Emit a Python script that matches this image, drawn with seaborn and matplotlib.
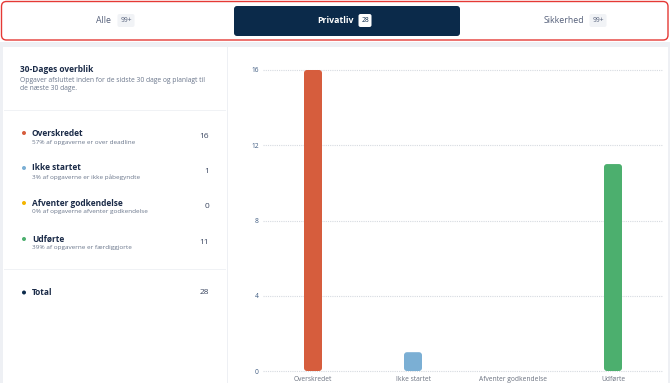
import matplotlib
matplotlib.use("Agg")
import matplotlib.pyplot as plt
import seaborn as sns
from matplotlib.patches import FancyBboxPatch, Rectangle, Circle

# ---- data ----
categories = ["Overskredet", "Ikke startet", "Afventer godkendelse", "Udførte"]
values = [16, 1, 0, 11]
subtexts = ["57% af opgaverne er over deadline",
            "3% af opgaverne er ikke påbegyndte",
            "0% af opgaverne afventer godkendelse",
            "39% af opgaverne er færdiggjorte"]
colors = ["#d65d3d", "#7bafd4", "#f4b400", "#4caf6e"]
total = 28
yticks = [0, 4, 8, 12, 16]
tabs = ["Alle", "Privatliv", "Sikkerhed"]
tab_badges = ["99+", "28", "99+"]

sns.set_theme(style="white")
plt.rcParams["font.family"] = ["Open Sans", "DejaVu Sans"]

W, H = 670, 383
fig = plt.figure(figsize=(W / 100, H / 100), dpi=100)
fig.patch.set_facecolor("#eef0f4")

def fx(x):
    return x / W

def fy(y):
    return 1 - y / H

def frect(x0, y0, x1, y1, **kw):
    r = Rectangle((fx(x0), fy(y1)), fx(x1) - fx(x0), fy(y0) - fy(y1),
                  transform=fig.transFigure, zorder=-2, **kw)
    fig.patches.append(r)

def fround(x0, y0, x1, y1, rad, **kw):
    p = FancyBboxPatch((x0, H - y1), x1 - x0, y1 - y0,
                       boxstyle=f"round,pad=0,rounding_size={rad}",
                       transform=None, **kw)
    fig.patches.append(p)

def ftext(x, y, s, **kw):
    fig.text(fx(x), fy(y), s, **kw)

NAVY = "#0b2a4a"
DARK = "#1b2b48"
GRAY = "#6b778c"

# top tab bar
frect(0, 0, W, 42, facecolor="white", edgecolor="none")
fround(1.5, 1.5, 668, 40, 5, facecolor="white", edgecolor="#e53935", linewidth=1.0)
fround(234, 6, 460, 36, 3, facecolor=NAVY, edgecolor="none")

tab_x = [104, 336, 564]
badge_x = [126, 365, 598]
for i, (t, b) in enumerate(zip(tabs, tab_badges)):
    active = (i == 1)
    ftext(tab_x[i], 20.5, t, ha="center", va="center", fontsize=6.3,
          color="white" if active else "#55607a",
          fontweight="bold" if active else "normal")
    bw = 17 if len(b) == 3 else 13
    fround(badge_x[i] - bw / 2, 14, badge_x[i] + bw / 2, 27, 2,
           facecolor="white" if active else "#f1f3f6", edgecolor="none")
    ftext(badge_x[i], 20.5, b, ha="center", va="center", fontsize=4.8,
          color=NAVY if active else "#55607a")

# panels
frect(3, 47, 227, H, facecolor="white", edgecolor="none")
frect(228, 47, 668, H, facecolor="white", edgecolor="none")
frect(4, 109.5, 226, 110.5, facecolor="#f0f2f5", edgecolor="none")
frect(4, 268.5, 226, 269.5, facecolor="#f0f2f5", edgecolor="none")

# left panel text
ftext(20, 70, "30-Dages overblik", ha="left", va="center", fontsize=6.0,
      fontweight="bold", color=DARK)
ftext(20, 80.5, "Opgaver afsluttet inden for de sidste 30 dage og planlagt til",
      ha="left", va="center", fontsize=4.9, color=GRAY)
ftext(20, 88.5, "de næste 30 dage.", ha="left", va="center", fontsize=4.9, color=GRAY)

item_y = [133, 168, 203, 239]
for cat, sub, col, val, y in zip(categories, subtexts, colors, values, item_y):
    fig.patches.append(Circle((24, H - y), 2.0, transform=None,
                              facecolor=col, edgecolor="none"))
    ftext(32, y, cat, ha="left", va="center", fontsize=6.0,
          fontweight="bold", color=DARK)
    ftext(32, y + 9, sub, ha="left", va="center", fontsize=4.6, color=GRAY)
    ftext(209, y + 3.5, str(val), ha="right", va="center", fontsize=6.0,
          color="#3a4660")

fig.patches.append(Circle((24, H - 292.5), 2.0, transform=None,
                          facecolor=NAVY, edgecolor="none"))
ftext(32, 292.5, "Total", ha="left", va="center", fontsize=6.0,
      fontweight="bold", color=DARK)
ftext(209, 292.5, str(total), ha="right", va="center", fontsize=6.0,
      color="#3a4660")

# chart
ax = fig.add_axes([fx(263), fy(371), fx(663) - fx(263), fy(70) - fy(371)])
ax.set_zorder(5)
ax.set_facecolor("none")
sns.barplot(x=categories, y=values, hue=categories, palette=colors,
            width=0.18, legend=False, ax=ax, saturation=1)
ax.set_ylim(0, 16)
ax.set_xlim(-0.5, 3.5)
ax.set_yticks(yticks)
ax.set_yticklabels([str(v) for v in yticks])
for s in ax.spines.values():
    s.set_visible(False)
ax.tick_params(axis="y", length=0, pad=3, labelsize=4.8, labelcolor="#3d5a80")
ax.tick_params(axis="x", length=0, pad=3.5, labelsize=4.8, labelcolor="#6b7280")
ax.set_xlabel("")
ax.set_ylabel("")
for v in yticks:
    ax.axhline(v, color="#d6dae0", linewidth=0.8, linestyle=(0, (1, 1.0)),
               zorder=0, clip_on=False)

# rounded bars
bw_px = ax.get_window_extent().width / 4.0  # px per x unit
py_px = ax.get_window_extent().height / 16.0
rad_x = 3.0 / bw_px
aspect = (3.0 / py_px) / rad_x
old = list(ax.patches)
for p in old:
    x, y = p.get_x(), p.get_y()
    w, h = p.get_width(), p.get_height()
    fc = p.get_facecolor()
    p.remove()
    if h <= 0:
        continue
    ax.add_patch(FancyBboxPatch((x, y), w, h,
                                boxstyle=f"round,pad=0,rounding_size={rad_x}",
                                mutation_aspect=aspect, facecolor=fc,
                                edgecolor="none", zorder=2))

fig.savefig("out.png", dpi=100)
